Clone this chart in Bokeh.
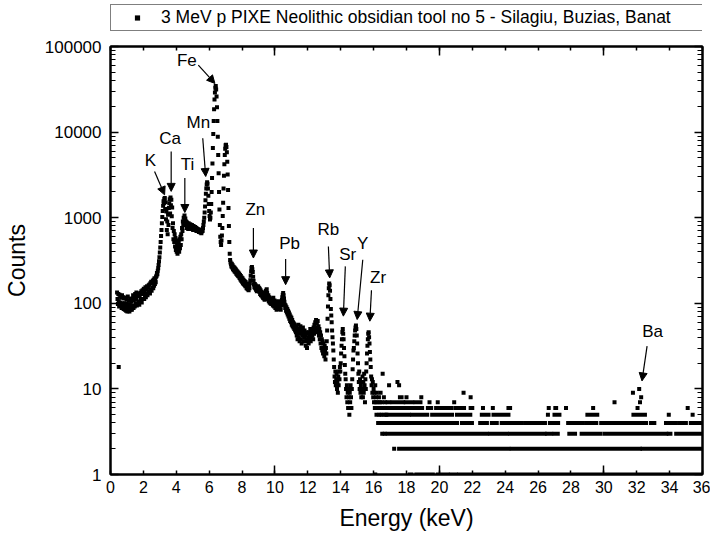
import numpy as np
from bokeh.plotting import figure
from bokeh.layouts import column
from bokeh.models import (ColumnDataSource, LogAxis, LinearAxis, FixedTicker, LogTicker,
                          NumeralTickFormatter, Arrow, NormalHead, Legend, LegendItem, Range1d)
from bokeh.core.properties import value
from bokeh.embed import file_html
from bokeh.resources import INLINE

FONT = "Liberation Sans"

# ---------------- data ----------------
LEGEND_LABEL = "3 MeV p PIXE Neolithic obsidian tool no 5 - Silagiu, Buzias, Banat"

# spectrum channels (keV calibration of the multichannel analyser)
START_KEV = 0.40
CHANNEL_KEV = 0.025
COUNTS = [
    134, 112, 98, 128, 106, 92, 126, 102, 120, 96, 116, 88, 124, 100, 94, 118,
    86, 114, 100, 84, 116, 92, 82, 110, 98, 80, 120, 90, 86, 108, 80, 96, 114, 84, 104, 90,
    84, 112, 94, 124, 88, 108, 118, 92, 128, 98, 112, 134, 94, 120, 100, 126, 104, 130, 96, 122,
    106, 132, 110, 138, 102, 128, 142, 112, 132, 148, 112, 140, 122, 154, 118, 146, 128, 158, 124, 152,
    132, 162, 138, 166, 130, 172, 146, 178, 140, 174, 152, 184, 150, 188, 160, 196, 168, 192, 176, 204,
    210, 226, 218, 240, 256, 280, 310, 346, 392, 450, 520, 610, 720, 860, 1020, 1200, 1380, 1560, 1480, 1650,
    1700, 1260, 1520, 960, 1180, 720, 900, 640, 1080, 820, 1300, 1480, 1640, 1120, 1720, 1400, 1620, 1040, 1320, 760,
    860, 560, 700, 520, 640, 460, 580, 420, 540, 400, 500, 380, 460, 420, 520, 400, 560, 440, 600, 480,
    640, 560, 760, 700, 900, 820, 1000, 900, 1060, 940, 980, 820, 900, 760, 880, 800, 840, 740, 860, 780,
    820, 760, 840, 780, 800, 740, 820, 760, 780, 720, 800, 750, 770, 720, 780, 740, 760, 700, 750, 720,
    740, 700, 720, 680, 730, 690, 710, 670, 700, 660, 690, 720, 700, 760, 820, 900, 1000, 1150, 1350, 1600,
    1900, 2200, 2450, 2600, 2500, 2200, 1800, 1450, 1200, 1050, 950, 1000, 1150, 1450, 2000, 2900, 4300, 6500, 9500, 13500,
    18500, 24000, 29000, 33000, 34500, 31500, 26000, 19500, 13500, 8800, 5400, 3300, 2000, 1250, 820, 600, 520, 480, 540, 620,
    760, 1050, 1500, 2200, 3100, 4200, 5400, 6400, 7000, 7100, 6700, 5800, 4500, 3200, 2100, 1300, 800, 520, 380, 320,
    300, 285, 270, 290, 262, 278, 250, 268, 244, 262, 236, 255, 230, 248, 222, 240, 216, 234, 210, 228,
    206, 222, 198, 214, 190, 208, 184, 200, 178, 196, 172, 188, 168, 184, 164, 180, 158, 176, 162, 150,
    150, 168, 146, 160, 142, 158, 150, 170, 186, 210, 236, 258, 266, 250, 232, 204, 184, 166, 154, 168,
    150, 162, 144, 156, 138, 150, 146, 158, 140, 152, 136, 148, 128, 142, 124, 136, 130, 120, 134, 116,
    128, 114, 124, 110, 132, 120, 140, 128, 146, 132, 120, 112, 124, 106, 118, 102, 114, 100, 110, 98,
    112, 98, 106, 94, 116, 100, 92, 108, 96, 88, 104, 92, 84, 100, 90, 96, 106, 86, 94, 102,
    90, 98, 84, 94, 102, 110, 118, 126, 132, 124, 114, 104, 96, 88, 94, 82, 90, 78, 86, 74,
    82, 70, 78, 66, 74, 62, 70, 60, 68, 56, 64, 54, 60, 52, 58, 50, 56, 48, 54, 46,
    52, 42, 48, 38, 46, 56, 40, 50, 36, 44, 54, 38, 48, 34, 46, 42, 52, 36, 44, 40,
    48, 36, 42, 32, 46, 38, 30, 44, 36, 40, 34, 46, 38, 42, 50, 36, 44, 40, 48, 42,
    46, 38, 52, 44, 56, 48, 60, 52, 64, 50, 58, 46, 62, 48, 54, 42, 50, 38, 46, 34,
    42, 30, 38, 28, 36, 26, 34, 30, 24, 32, 28, 22, 30, 26, 36, 48, 66, 92, 124, 150,
    170, 162, 140, 112, 86, 72, 60, 48, 40, 34, 28, 22, 18, 14, 12, 16, 11, 13, 15, 10,
    12, 9, 14, 11, 16, 13, 18, 16, 20, 26, 32, 38, 46, 50, 44, 38, 30, 24, 19, 15,
    13, 10, 8, 11, 7, 9, 6, 10, 8, 5, 9, 7, 11, 8, 6, 10, 13, 17, 22, 28,
    30, 36, 42, 48, 52, 55, 50, 42, 34, 26, 20, 15, 12, 16, 10, 13, 9, 11, 8, 12,
    10, 14, 8, 12, 9, 15, 11, 7, 13, 10, 16, 20, 26, 32, 38, 44, 46, 40, 34, 27,
    22, 18, 14, 11, 13, 9, 12, 8, 10, 7, 9, 6, 11, 7, 8, 5, 9, 6, 7, 4,
    6, 8, 5, 7, 4, 9, 6, 5, 7, 3, 15, 6, 4, 8, 5, 3, 7, 4, 6, 5,
]

# isolated points off the channel list
ISO_ENERGY = [0.50, 16.94, 17.45, 17.55]
ISO_COUNTS = [18, 11, 12, 11]

# low-count region: runs of consecutive channels sitting on the same integer count
LEVEL_1_RUNS = [(16.1, 16.1), (18.2, 18.3), (18.6, 19.6), (19.9, 20.5), (20.7, 21.0), (21.2, 36.0)]
LEVEL_2_RUNS = [(17.25, 17.25), (17.55, 24.2), (24.4, 32.2), (32.35, 36.0)]
LEVEL_3_RUNS = [(16.85, 22.9), (23.1, 24.1), (24.3, 26.4), (26.55, 26.8), (27.0, 27.2), (27.9, 28.25),
                (28.65, 29.8), (30.05, 33.8), (33.95, 34.05), (34.4, 36.0)]
LEVEL_4_RUNS = [(16.85, 18.55), (18.75, 21.07), (21.37, 21.58), (21.78, 21.98), (22.48, 22.89),
                (23.19, 23.49), (23.79, 24.2), (24.4, 25.0), (25.21, 25.81), (25.91, 26.42),
                (26.72, 26.92), (27.12, 27.22), (27.83, 28.33), (28.53, 28.73), (28.94, 29.14),
                (29.34, 29.54), (29.84, 30.04), (30.25, 30.45), (30.65, 31.76), (31.86, 32.57),
                (32.87, 33.07), (33.78, 34.38), (34.58, 34.99), (35.29, 35.99)]
LEVEL_5_RUNS = [(16.85, 18.15), (18.35, 19.26), (19.56, 20.77), (21.07, 21.88), (22.58, 22.99),
                (23.29, 24.2), (26.6, 26.6), (27.0, 27.3), (29.0, 29.6), (31.8, 32.5), (33.95, 33.95),
                (35.4, 35.4)]
LEVEL_6_RUNS = [(16.85, 16.94), (17.14, 18.6), (18.8, 18.95), (19.3, 19.5), (19.8, 20.3), (20.5, 20.75),
                (21.0, 21.5), (21.9, 22.0), (22.65, 22.65), (23.25, 23.25), (24.2, 24.3), (26.65, 26.65),
                (27.05, 27.1), (27.7, 27.7), (29.35, 29.35), (32.05, 32.05), (35.1, 35.1)]
LEVEL_7_RUNS = [(16.85, 16.95), (17.15, 17.8), (17.95, 18.35), (18.55, 18.85), (19.4, 19.4),
                (19.9, 19.9), (20.9, 20.9), (30.65, 30.65), (32.2, 32.2)]
LEVEL_8_RUNS = [(17.6, 17.7), (18.0, 18.0), (18.9, 18.9), (21.9, 21.9), (32.27, 32.27)]
LEVEL_9_RUNS = [(21.47, 21.47), (31.77, 31.77)]
LEVEL_10_RUNS = [(32.15, 32.15)]

# peak annotations
PEAK_NAMES = ["K", "Ca", "Ti", "Mn", "Fe", "Zn", "Pb", "Rb", "Sr", "Y", "Zr", "Ba"]
LABEL_KEV = [2.42, 3.63, 4.68, 5.34, 4.64, 8.81, 10.89, 13.25, 14.42, 15.33, 16.27, 32.97]
LABEL_COUNTS = [4690, 8470, 4140, 12900, 69200, 1240, 506, 722, 370, 506, 198, 47.3]
ARROW_FROM_KEV = [2.68, 3.69, 4.52, 5.61, 5.34, 8.69, 10.65, 13.25, 14.28, 15.34, 15.87, 32.63]
ARROW_FROM_COUNTS = [3470, 5930, 2900, 8470, 60500, 757, 329, 462, 270, 323, 142, 31.6]
ARROW_TO_KEV = [3.29, 3.69, 4.52, 5.79, 6.35, 8.69, 10.65, 13.33, 14.16, 15.0, 15.77, 32.32]
ARROW_TO_COUNTS = [1850, 2030, 1150, 3030, 37000, 338, 165, 198, 70.8, 64.6, 61.8, 12.4]

X_TICKS = [0, 2, 4, 6, 8, 10, 12, 14, 16, 18, 20, 22, 24, 26, 28, 30, 32, 34, 36]
X_LONG_TICKS = [10, 20, 30]

# ---------------- main figure ----------------
energy = [round(START_KEV + CHANNEL_KEV * i, 4) for i in range(len(COUNTS))]
spec_src = ColumnDataSource(dict(energy=energy, counts=COUNTS))
iso_src = ColumnDataSource(dict(energy=ISO_ENERGY, counts=ISO_COUNTS))

run_x0, run_x1, run_y = [], [], []
for lvl, runs in [(1, LEVEL_1_RUNS), (2, LEVEL_2_RUNS), (3, LEVEL_3_RUNS), (4, LEVEL_4_RUNS),
                  (5, LEVEL_5_RUNS), (6, LEVEL_6_RUNS), (7, LEVEL_7_RUNS), (8, LEVEL_8_RUNS),
                  (9, LEVEL_9_RUNS), (10, LEVEL_10_RUNS)]:
    for s, e in runs:
        run_x0.append(s)
        run_x1.append(e)
        run_y.append(lvl)
run_src = ColumnDataSource(dict(x0=run_x0, x1=run_x1, y=run_y))

LEG_H = 36

p = figure(width=710, height=541 - LEG_H, x_range=Range1d(0, 36), y_range=Range1d(1, 100000),
           y_axis_type="log", output_backend="svg", toolbar_location=None,
           min_border_left=107, min_border_right=8, min_border_top=46 - LEG_H, min_border_bottom=67)
p.grid.visible = False
p.background_fill_color = "white"
p.border_fill_color = "white"
p.outline_line_color = "black"
p.outline_line_width = 2

# bottom axis
xa = p.xaxis[0]
xa.ticker = FixedTicker(ticks=X_TICKS, minor_ticks=X_LONG_TICKS)
xa.axis_line_width = 2
xa.major_tick_in = 4
xa.major_tick_out = 0
xa.minor_tick_in = 9
xa.minor_tick_out = 0
xa.major_tick_line_width = 1.5
xa.minor_tick_line_width = 1.5
xa.major_label_text_font = FONT
xa.major_label_text_font_size = "16px"
xa.major_label_text_color = "black"
xa.major_label_standoff = 6
xa.axis_label = "Energy (keV)"
xa.axis_label_text_font = FONT
xa.axis_label_text_font_size = "23px"
xa.axis_label_text_font_style = "normal"
xa.axis_label_text_color = "black"
xa.axis_label_standoff = 9

# left axis
ya = p.yaxis[0]
ya.ticker = LogTicker(num_minor_ticks=10)
ya.formatter = NumeralTickFormatter(format="0")
ya.axis_line_width = 2
ya.major_tick_in = 8
ya.major_tick_out = 0
ya.minor_tick_in = 5
ya.minor_tick_out = 0
ya.major_tick_line_width = 1.5
ya.minor_tick_line_width = 1.2
ya.major_label_text_font = FONT
ya.major_label_text_font_size = "17px"
ya.major_label_text_color = "black"
ya.major_label_standoff = 9
ya.axis_label = "Counts"
ya.axis_label_text_font = FONT
ya.axis_label_text_font_size = "23px"
ya.axis_label_text_font_style = "normal"
ya.axis_label_text_color = "black"
ya.axis_label_standoff = 12

# mirrored axes (ticks only, labels not drawn)
ra = LogAxis(ticker=LogTicker(num_minor_ticks=10), major_label_text_font_size="1px",
             major_label_text_color=None, major_label_standoff=0, axis_line_width=2,
             major_tick_in=8, major_tick_out=0, minor_tick_in=5, minor_tick_out=0,
             major_tick_line_width=1.5, minor_tick_line_width=1.2)
p.add_layout(ra, "right")
ta = LinearAxis(ticker=FixedTicker(ticks=X_TICKS, minor_ticks=X_LONG_TICKS),
                major_label_text_font_size="1px", major_label_text_color=None,
                major_label_standoff=0, axis_line_width=2,
                major_tick_in=4, major_tick_out=0, minor_tick_in=9, minor_tick_out=0,
                major_tick_line_width=1.5, minor_tick_line_width=1.5)
p.add_layout(ta, "above")

# data
p.segment(x0="x0", y0="y", x1="x1", y1="y", source=run_src, line_color="black",
          line_width=4, line_cap="square")
p.scatter(x="energy", y="counts", source=spec_src, marker="square", size=4,
          fill_color="black", line_color=None)
p.scatter(x="energy", y="counts", source=iso_src, marker="square", size=4,
          fill_color="black", line_color=None)

# peak labels and arrows
lab_src = ColumnDataSource(dict(x=LABEL_KEV, y=LABEL_COUNTS, t=PEAK_NAMES))
p.text(x="x", y="y", text="t", source=lab_src, text_font=value(FONT),
       text_font_size=value("17px"), text_align="center", text_baseline="middle",
       text_color="black")
arr_src = ColumnDataSource(dict(x0=ARROW_FROM_KEV, y0=ARROW_FROM_COUNTS,
                                x1=ARROW_TO_KEV, y1=ARROW_TO_COUNTS))
p.add_layout(Arrow(end=NormalHead(size=8, fill_color="black", line_color="black", line_width=1),
                   x_start="x0", y_start="y0", x_end="x1", y_end="y1", source=arr_src,
                   line_color="black", line_width=1.2))

# ---------------- legend strip above the plot ----------------
lf = figure(width=710, height=LEG_H, x_range=Range1d(0, 1), y_range=Range1d(0, 1),
            x_axis_type=None, y_axis_type=None, output_backend="svg", toolbar_location=None,
            min_border_left=94, min_border_right=0, min_border_top=4, min_border_bottom=0)
lf.grid.visible = False
lf.outline_line_color = None
lf.background_fill_color = "white"
lf.border_fill_color = "white"
# same spectrum source: all points fall outside this strip's ranges, only the legend key shows
key = lf.scatter(x="energy", y="counts", source=spec_src, marker="square", size=4,
                 fill_color="black", line_color=None)
legend = Legend(items=[LegendItem(label=LEGEND_LABEL, renderers=[key])],
                location="top_left", padding=2, spacing=0, margin=0,
                glyph_width=48, glyph_height=13, label_height=19, label_width=554,
                label_standoff=0, label_text_font=FONT, label_text_font_size="17.5px",
                label_text_color="black", border_line_color="black", border_line_width=1,
                background_fill_color="white", background_fill_alpha=1.0)
lf.add_layout(legend)

open("out.html", "w").write(file_html(column(lf, p, spacing=0), INLINE))
